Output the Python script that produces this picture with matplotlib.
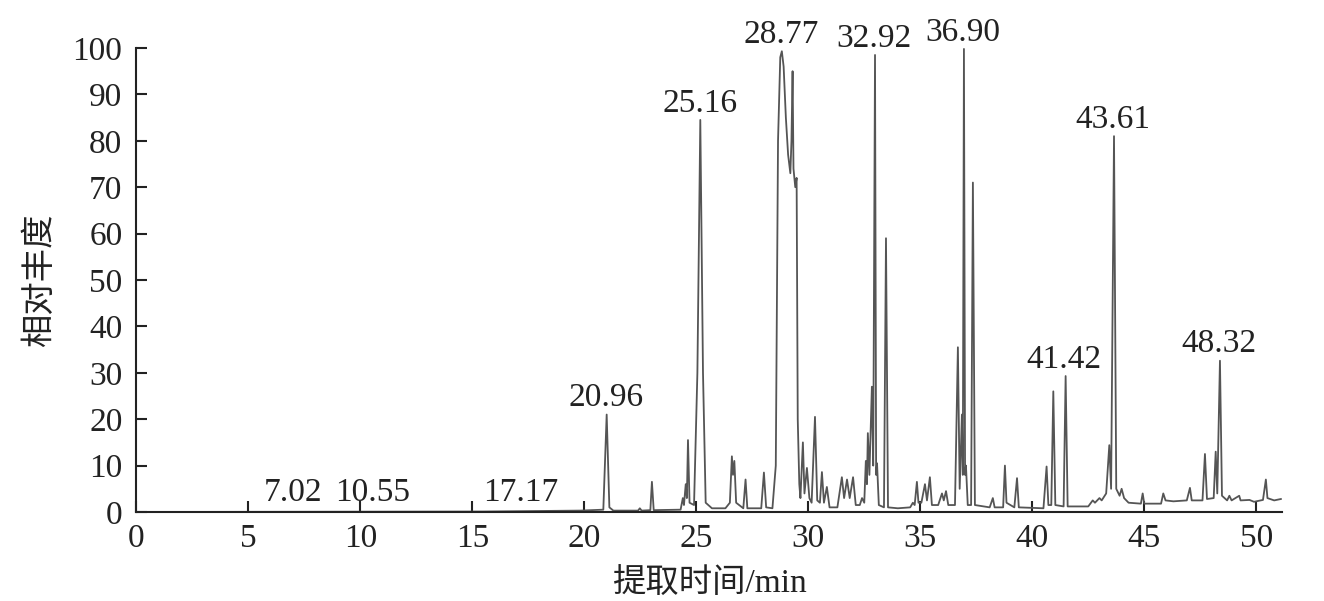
import matplotlib
matplotlib.use('Agg')
import matplotlib.pyplot as plt

plt.rcParams['font.family'] = ['Liberation Serif', 'Noto Sans CJK SC']

# chromatogram trace (retention time / min, relative abundance)
trace_t = [0, 15.5, 19.8, 20.85, 21.0, 21.12, 21.3, 22.4, 22.48, 22.56,
           22.95, 23.02, 23.1, 24.3, 24.4, 24.45, 24.53, 24.58, 24.63, 24.7,
           24.9, 25.05, 25.18, 25.3, 25.42, 25.7, 26.3, 26.5, 26.59, 26.64,
           26.7, 26.78, 27.1, 27.2, 27.28, 27.9, 28.02, 28.12, 28.4,
           28.55, 28.65, 28.75, 28.82, 28.9, 29.0, 29.1, 29.2, 29.25, 29.3,
           29.34, 29.42, 29.48, 29.53, 29.6,
           29.65, 29.76, 29.83, 29.94, 30.05, 30.15, 30.3, 30.4, 30.52, 30.61,
           30.7, 30.83, 30.95, 31.3, 31.5, 31.6, 31.73, 31.85, 32.0, 32.12,
           32.3, 32.4, 32.5, 32.57, 32.62, 32.66, 32.73, 32.84, 32.9, 32.98,
           33.03, 33.07, 33.15, 33.38, 33.47, 33.56, 34.0, 34.55, 34.67, 34.75,
           34.85, 34.92, 35.05, 35.21, 35.3, 35.43, 35.52, 35.8, 35.97, 36.05,
           36.15, 36.25, 36.55, 36.68, 36.76, 36.86, 36.9, 36.95, 37.0, 37.04,
           37.12, 37.27, 37.35, 37.44, 38.1, 38.24, 38.32, 38.7, 38.78, 38.85,
           39.2, 39.32, 39.4, 40.5, 40.64, 40.72, 40.85, 40.94, 41.03, 41.4,
           41.49, 41.58, 42.5, 42.7, 42.8, 43.0, 43.1, 43.3, 43.44, 43.52,
           43.65, 43.75, 43.9, 43.99, 44.1, 44.3, 44.85, 44.93, 45.0, 45.75,
           45.85, 45.95, 46.3, 46.9, 47.04, 47.12, 47.6, 47.71, 47.8, 48.1,
           48.19, 48.26, 48.38, 48.47, 48.7, 48.8, 48.9, 49.24, 49.3, 49.7,
           49.9, 50.3, 50.43, 50.5, 50.8, 51.1]
trace_y = [0, 0.1, 0.3, 0.5, 21, 1, 0.3, 0.3, 0.8, 0.3,
           0.4, 6.5, 0.4, 0.5, 3, 1.5, 6, 3, 15.5, 2,
           1.5, 30, 84.5, 30, 2, 0.8, 0.8, 2, 12, 8,
           11, 2, 0.8, 7, 0.8, 0.8, 8.5, 1, 0.8,
           10, 80, 98, 99.3, 96, 85, 77, 73, 80, 95,
           74, 70, 72, 20, 6,
           3, 15, 4, 9.5, 3, 2, 20.5, 2.5, 2, 8.6,
           2, 5.4, 1, 1, 7.5, 3, 7, 3, 7.5, 1.5,
           1.5, 3, 2, 11, 6, 17, 8, 27, 10, 98.5,
           8, 10.5, 1.5, 1, 59, 1, 0.8, 1, 2, 1.5,
           6.5, 2, 2, 6, 2.5, 7.5, 1.5, 1.5, 4, 2.5,
           4.5, 1.5, 1.5, 35.5, 5, 21, 8, 99.8, 8, 10,
           1.5, 1.5, 71, 1.5, 1, 3, 1, 1, 10, 2,
           1, 7.3, 1, 0.8, 9.8, 1.5, 1.5, 26, 1.5, 1.2,
           29.3, 1.2, 1.2, 2.5, 2, 3, 2.5, 4, 14.4, 5,
           81, 5, 3.5, 5, 3, 2, 1.8, 4, 1.8, 1.8,
           4, 2.5, 2.3, 2.5, 5.2, 2.5, 2.5, 12.5, 2.8, 3,
           13, 4, 32.6, 3.5, 2.5, 3.5, 2.5, 3.5, 2.5, 2.6,
           2.2, 2.6, 7, 3, 2.5, 2.8]

# labelled peaks: retention time and the height the label sits on
label_rt = [7.02, 10.55, 17.17, 20.96, 25.16, 28.77, 32.92, 36.90, 41.42, 43.61, 48.32]
label_h = [0, 0, 0, 21, 84.5, 99.3, 98.5, 99.8, 29.3, 81, 32.6]
label_text = ['7.02', '10.55', '17.17', '20.96', '25.16', '28.77', '32.92',
              '36.90', '41.42', '43.61', '48.32']

x_ticks = [0, 5, 10, 15, 20, 25, 30, 35, 40, 45, 50]
y_ticks = [0, 10, 20, 30, 40, 50, 60, 70, 80, 90, 100]

fig = plt.figure(figsize=(13.24, 6.01), dpi=100)
ax = fig.add_axes([136.3 / 1324, 1 - 512 / 601, (1282 - 136.3) / 1324, (512 - 48) / 601])

ax.plot(trace_t, trace_y, color='#555555', lw=1.3, solid_joinstyle='round')

for rt, h, txt in zip(label_rt, label_h, label_text):
    # baseline labels sit a little higher than the peak ones
    off = 3 if h == 0 else 1
    ax.annotate(txt, xy=(rt, h), xytext=(0, off), textcoords='offset points',
                ha='center', va='bottom', fontsize=24, color='#222222')

ax.set_xlim(0, 51.15)
ax.set_ylim(0, 100)
ax.set_xticks(x_ticks)
ax.set_yticks(y_ticks)
ax.spines['top'].set_visible(False)
ax.spines['right'].set_visible(False)
for s in ['left', 'bottom']:
    ax.spines[s].set_linewidth(1.5)
    ax.spines[s].set_color('#222222')
ax.tick_params(direction='in', length=8, width=1.5, labelsize=24, colors='#222222')
ax.tick_params(axis='x', pad=8)
ax.tick_params(axis='y', pad=10)

ax.set_xlabel('提取时间/min', fontsize=24, labelpad=11, color='#222222')
ax.set_ylabel('相对丰度', fontsize=24, labelpad=12, color='#222222')

plt.savefig('out.png', dpi=100)
